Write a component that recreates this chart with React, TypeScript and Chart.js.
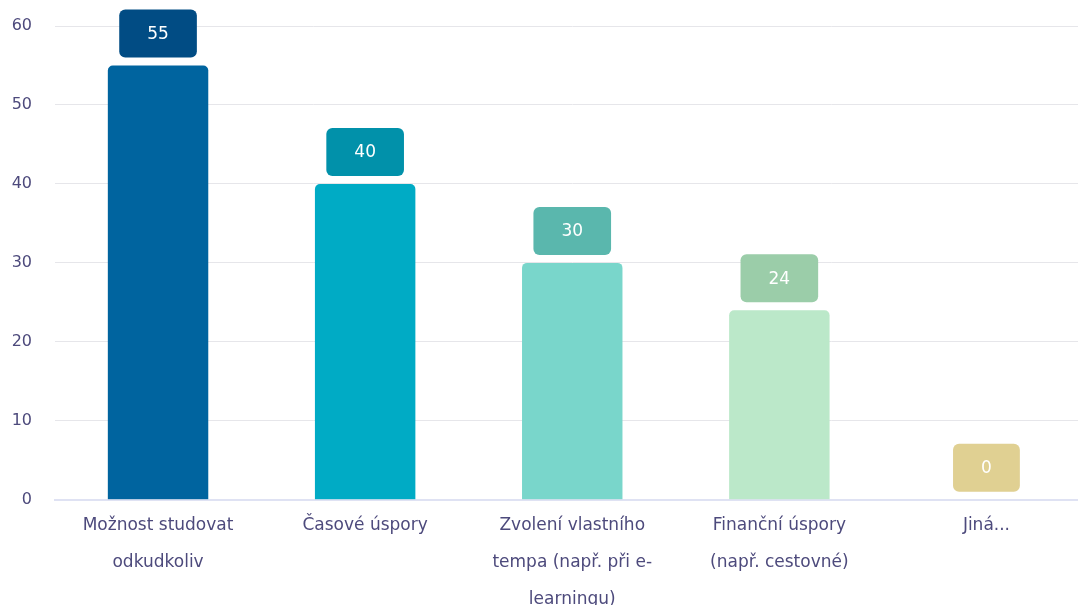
import React, { useEffect, useRef } from "react";
import { Chart, registerables } from "chart.js";

Chart.register(...registerables);

const categories: string[][] = [
  ["Možnost studovat", "odkudkoliv"],
  ["Časové úspory"],
  ["Zvolení vlastního", "tempa (např. při e-", "learningu)"],
  ["Finanční úspory", "(např. cestovné)"],
  ["Jiná..."],
];
const values: number[] = [55, 40, 30, 24, 0];
const barColors: string[] = ["#00649f", "#00abc5", "#79d6cb", "#bbe8c9", "#e6d59a"];
const labelColors: string[] = ["#014c84", "#0191aa", "#5ab7ad", "#9bcda9", "#e0d092"];
const yTicks: number[] = [0, 10, 20, 30, 40, 50, 60];

const FONT = "'DejaVu Sans', sans-serif";

const valueBoxes = {
  id: "valueBoxes",
  afterDatasetsDraw(chart: any) {
    const ctx = chart.ctx;
    const meta = chart.getDatasetMeta(0);
    ctx.save();
    ctx.font = `17px ${FONT}`;
    ctx.textAlign = "center";
    ctx.textBaseline = "middle";
    meta.data.forEach((bar: any, i: number) => {
      const text = String(values[i]);
      const tw = ctx.measureText(text).width;
      const w = tw + 56;
      const h = 48;
      const x = bar.x - w / 2;
      const y = bar.y - 8 - h;
      ctx.fillStyle = labelColors[i];
      ctx.beginPath();
      (ctx as any).roundRect(x, y, w, h, 6);
      ctx.fill();
      ctx.fillStyle = "#ffffff";
      ctx.fillText(text, bar.x, y + h / 2 + 1);
    });
    ctx.restore();
  },
};

export default function App() {
  const ref = useRef<HTMLCanvasElement | null>(null);
  useEffect(() => {
    if (!ref.current) return;
    const chart = new Chart(ref.current, {
      type: "bar",
      data: {
        labels: categories,
        datasets: [
          {
            data: values,
            backgroundColor: barColors,
            borderRadius: 5,
            borderSkipped: "start",
            barPercentage: 0.485,
            categoryPercentage: 1,
          },
        ],
      },
      options: {
        responsive: false,
        animation: false,
        layout: { padding: { top: 26, left: 10, right: 0, bottom: 0 } },
        plugins: { legend: { display: false }, tooltip: { enabled: false } },
        scales: {
          x: {
            grid: { display: false, drawTicks: false },
            border: { display: true, color: "#dfe2f3", width: 2 },
            ticks: {
              color: "#4d4a7c",
              font: { family: FONT, size: 17, lineHeight: 2.18 },
              padding: 7,
              maxRotation: 0,
              autoSkip: false,
            },
          },
          y: {
            min: 0,
            max: 60,
            afterBuildTicks: (axis: any) => {
              axis.ticks = yTicks.map((v) => ({ value: v }));
            },
            afterFit: (axis: any) => {
              axis.width = 44.5;
              axis.paddingTop = 0;
              axis.paddingBottom = 0;
            },
            grid: { color: "#e6e6ea", drawTicks: false },
            border: { display: false },
            ticks: {
              color: "#4d4a7c",
              font: { family: FONT, size: 16 },
              padding: 22.5,
            },
          },
        },
      },
      plugins: [valueBoxes],
    });
    return () => chart.destroy();
  }, []);
  return (
    <div style={{ position: "fixed", left: 0, top: 0, width: 1078, height: 605, overflow: "hidden", background: "#fff" }}>
      <canvas ref={ref} width={1090} height={625} />
    </div>
  );
}
